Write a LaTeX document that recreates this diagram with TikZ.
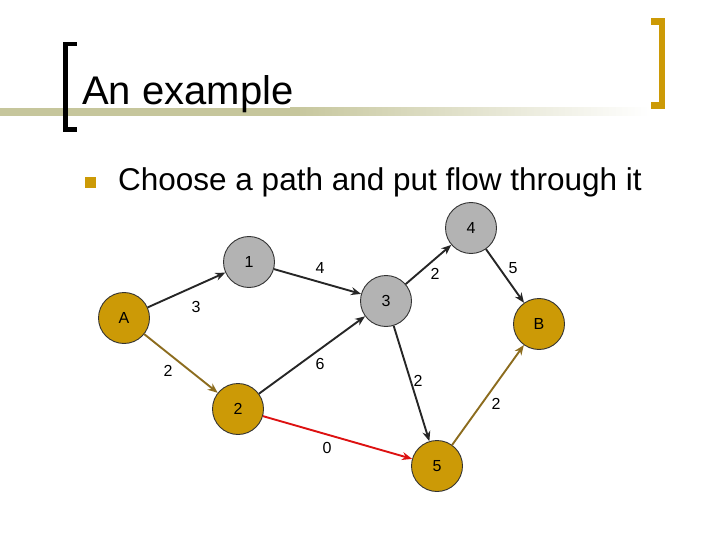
\documentclass[tikz,border=0pt]{standalone}
\usepackage{fontspec}
\setmainfont{Liberation Sans}
\usetikzlibrary{arrows.meta}
\definecolor{gold}{HTML}{CC9A06}
\definecolor{grayn}{HTML}{B3B3B3}
\definecolor{brownedge}{HTML}{8C6C1E}
\definecolor{olive}{HTML}{C6C69C}
\definecolor{redge}{HTML}{DD1111}
\tikzset{
  gnode/.style={circle,draw=black!80,line width=0.9pt,fill=grayn,minimum size=51pt,inner sep=0pt,font=\fontsize{16}{18}\selectfont},
  ynode/.style={gnode,fill=gold},
  edge/.style={line width=1.9pt,draw=black!85,-{Stealth[length=10pt,width=8pt]}},
  lbl/.style={font=\fontsize{16}{18}\selectfont,inner sep=0pt}
}
\begin{document}
\begin{tikzpicture}[x=1pt,y=-1pt]
\useasboundingbox (0,0) rectangle (720,540);
% header line
\shade[left color=olive,right color=white] (290,108) rectangle (650,116);
\fill[olive] (0,108) rectangle (300,116);
% title
\node[anchor=base west,inner sep=0pt,font=\fontsize{40}{44}\selectfont] (title) at (82,105) {An example};
% brackets
\fill[black] (62.7,41.7) rectangle (68,131.7);
\fill[black] (62.7,41.7) rectangle (77,46.5);
\fill[black] (62.7,126.7) rectangle (77,131.7);
\fill[gold] (659.3,18.3) rectangle (665,109);
\fill[gold] (650.7,18.3) rectangle (665,25);
\fill[gold] (650.7,102.3) rectangle (665,109);
% bullet
\fill[gold] (85,176.7) rectangle (96,187.7);
\node[anchor=base west,inner sep=0pt,font=\fontsize{31.5}{34}\selectfont] (bul) at (118,191) {Choose a path and put flow through it};
% nodes
\node[ynode] (A) at (124,318) {A};
\node[gnode] (n1) at (249,262) {1};
\node[gnode] (n3) at (386,301) {3};
\node[gnode] (n4) at (471,228) {4};
\node[ynode] (B) at (539,324) {B};
\node[ynode] (n2) at (238,409) {2};
\node[ynode] (n5) at (437,466) {5};
% edges
\draw[edge] (A) -- (n1);
\draw[edge] (n1) -- (n3);
\draw[edge] (n3) -- (n4);
\draw[edge] (n4) -- (B);
\draw[edge,draw=brownedge] (A) -- (n2);
\draw[edge] (n2) -- (n3);
\draw[edge] (n3) -- (n5);
\draw[edge,draw=redge] (n2) -- (n5);
\draw[edge,draw=brownedge] (n5) -- (B);
% labels
\node[lbl] (l1) at (196,307) {3};
\node[lbl] (l2) at (320,268) {4};
\node[lbl] (l3) at (435,274) {2};
\node[lbl] (l4) at (513,268) {5};
\node[lbl] (l5) at (168,371) {2};
\node[lbl] (l6) at (320,364) {6};
\node[lbl] (l7) at (418,381) {2};
\node[lbl] (l8) at (496,404) {2};
\node[lbl] (l9) at (327,448) {0};
\end{tikzpicture}
\end{document}
